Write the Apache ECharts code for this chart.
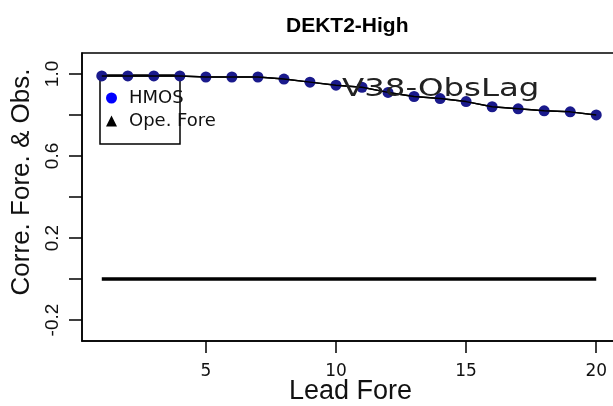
<!DOCTYPE html>
<html>
<head>
<meta charset="utf-8">
<script src="https://cdn.jsdelivr.net/npm/echarts@6/dist/echarts.min.js"></script>
<style>
  html, body { margin: 0; padding: 0; background: #ffffff; }
  #chart { width: 613px; height: 406px; }
</style>
</head>
<body>
<div id="chart"></div>
<script>
// Lead times (x) and correlation values per lead
const leadTimes = [1, 2, 3, 4, 5, 6, 7, 8, 9, 10, 11, 12, 13, 14, 15, 16, 17, 18, 19, 20];
const hmosCorr = [0.99, 0.99, 0.99, 0.99, 0.985, 0.985, 0.985, 0.975, 0.96, 0.945,
                  0.935, 0.91, 0.89, 0.88, 0.865, 0.84, 0.83, 0.82, 0.815, 0.80];
const opeFore = [0, 0, 0, 0, 0, 0, 0, 0, 0, 0, 0, 0, 0, 0, 0, 0, 0, 0, 0, 0];

// Axis tick positions and which of them carry a label
const xTickValues = [5, 10, 15, 20];
const yTickValues = [-0.2, 0, 0.2, 0.4, 0.6, 0.8, 1.0];
const yLabelValues = [-0.2, 0.2, 0.6, 1.0];

const pairs = (xs, ys) => xs.map((x, i) => [x, ys[i]]);

const chart = echarts.init(document.getElementById('chart'), null, { renderer: 'canvas' });

const axisFont = 'Liberation Sans, Arial, sans-serif';

chart.setOption({
  animation: false,
  backgroundColor: '#ffffff',
  title: {
    text: 'DEKT2-High',
    left: 281,
    top: 11,
    textStyle: { fontFamily: axisFont, fontWeight: 'bold', fontSize: 21, color: '#000' }
  },
  grid: {
    left: 82, right: -6, top: 53, bottom: 65,
    outerBoundsMode: 'none',
    containLabel: false,
    show: true, borderColor: '#000', borderWidth: 1.5, backgroundColor: 'transparent'
  },
  legend: {
    orient: 'vertical',
    left: 106,
    top: 89,
    padding: 0,
    itemWidth: 11,
    itemHeight: 11,
    itemGap: 5,
    selectedMode: false,
    textStyle: { fontFamily: 'DejaVu Sans', fontSize: 18, color: '#111', padding: [0, 0, 0, 7] },
    data: [
      { name: 'HMOS', icon: 'circle', itemStyle: { color: '#0000ff' } },
      { name: 'Ope. Fore', icon: 'triangle', itemStyle: { color: '#000' } }
    ]
  },
  xAxis: {
    type: 'value',
    min: 0.24,
    max: 20.875,
    name: 'Lead Fore',
    nameLocation: 'middle',
    nameGap: 37,
    nameMoveOverlap: false,
    nameTextStyle: { fontFamily: axisFont, fontSize: 27, color: '#111' },
    axisLine: { show: true, onZero: false, lineStyle: { color: '#000', width: 1.5 } },
    axisTick: { show: true, length: 12, customValues: xTickValues, lineStyle: { color: '#000', width: 1.5 } },
    axisLabel: { customValues: xTickValues, margin: 22, fontFamily: 'DejaVu Sans', fontSize: 17, color: '#111' },
    splitLine: { show: false }
  },
  yAxis: {
    type: 'value',
    min: -0.302,
    max: 1.102,
    name: 'Corre. Fore. & Obs.',
    nameLocation: 'middle',
    nameGap: 44,
    nameTextStyle: { fontFamily: axisFont, fontSize: 26, color: '#111', padding: [0, 0, 0, 30] },
    axisLine: { show: true, onZero: false, lineStyle: { color: '#000', width: 1.5 } },
    axisTick: { show: true, length: 13, customValues: yTickValues, lineStyle: { color: '#000', width: 1.5 } },
    axisLabel: {
      customValues: yLabelValues,
      rotate: 90,
      margin: 20,
      fontFamily: axisFont,
      fontSize: 19,
      color: '#111',
      formatter: v => v.toFixed(1)
    },
    splitLine: { show: false }
  },
  graphic: [
    {
      type: 'rect',
      shape: { x: 100, y: 75, width: 80, height: 69 },
      style: { fill: 'none', stroke: '#000', lineWidth: 1.5 },
      z: 0
    },
    {
      type: 'text',
      x: 342,
      y: 90,
      scaleX: 1.35,
      z: 10,
      style: {
        text: 'V38-ObsLag',
        x: 0,
        y: 0,
        font: '24px "DejaVu Sans"',
        fill: '#222',
        textVerticalAlign: 'middle'
      }
    }
  ],
  series: [
    {
      name: 'Ope. Fore',
      type: 'line',
      data: pairs(leadTimes, opeFore),
      showSymbol: false,
      symbol: 'triangle',
      color: '#000',
      lineStyle: { color: '#000', width: 3.5 },
      z: 3
    },
    {
      name: 'HMOS',
      type: 'line',
      data: pairs(leadTimes, hmosCorr),
      symbol: 'circle',
      symbolSize: 11,
      itemStyle: { color: '#1a1a8c' },
      lineStyle: { color: '#000', width: 1.5 },
      z: 4
    },
    {
      // Black connecting line drawn over the HMOS dots
      name: 'ObsLag',
      type: 'line',
      data: pairs(leadTimes, hmosCorr),
      showSymbol: false,
      lineStyle: { color: '#000', width: 1.5 },
      z: 5
    }
  ]
});
</script>
</body>
</html>
